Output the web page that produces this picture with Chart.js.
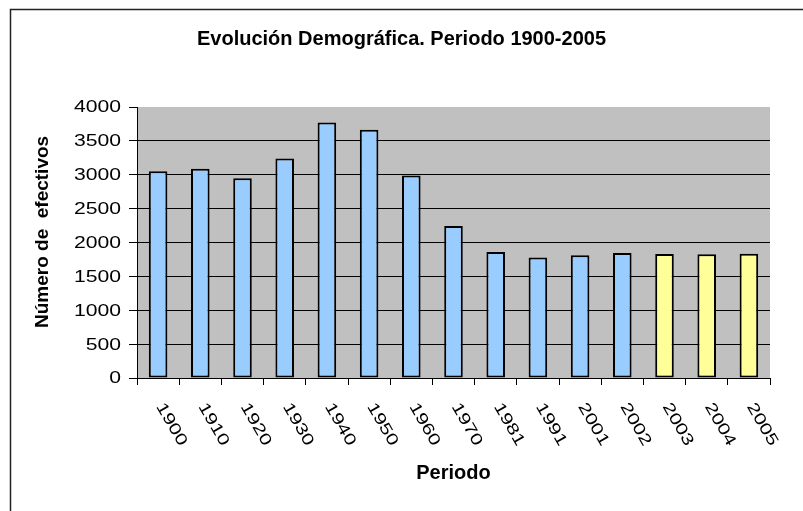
<!DOCTYPE html>
<html>
<head>
<meta charset="utf-8">
<script src="https://cdn.jsdelivr.net/npm/chart.js@4.4.1/dist/chart.umd.min.js"></script>
<style>
  html, body { margin: 0; padding: 0; background: #ffffff; }
  canvas { display: block; }
</style>
</head>
<body>
<canvas id="c" width="803" height="511"></canvas>
<script>
// ---- data ----
const categories = ['1900','1910','1920','1930','1940','1950','1960','1970','1981','1991','2001','2002','2003','2004','2005'];
const efectivos  = [3050, 3090, 2950, 3240, 3770, 3665, 2990, 2245, 1860, 1780, 1810, 1845, 1830, 1825, 1835];
const highlightedYears = ['2003','2004','2005'];
const yTickValues = [0, 500, 1000, 1500, 2000, 2500, 3000, 3500, 4000];
const chartTitle = 'Evolución Demográfica. Periodo 1900-2005';
const xTitle = 'Periodo';
const yTitle = 'Número de  efectivos';

const FONT = "'Liberation Sans', Arial, sans-serif";
const BLUE = '#99CCFF';
const YELLOW = '#FFFF99';

const decor = {
  id: 'decor',
  beforeDraw(chart) {
    const {ctx, chartArea: a} = chart;
    ctx.save();
    ctx.fillStyle = '#C0C0C0';
    ctx.fillRect(a.left, a.top, a.right - a.left, a.bottom - a.top);
    ctx.restore();
  },
  afterDraw(chart) {
    const ctx = chart.ctx;
    const xs = chart.scales.x, ys = chart.scales.y;
    ctx.save();
    // outer frame (top + left)
    ctx.strokeStyle = '#222';
    ctx.lineWidth = 1.5;
    ctx.beginPath();
    ctx.moveTo(10.5, 511);
    ctx.lineTo(10.5, 9.5);
    ctx.lineTo(803, 9.5);
    ctx.stroke();

    ctx.fillStyle = '#000';
    ctx.font = '16px ' + FONT;
    // y tick labels
    ctx.textAlign = 'right';
    ctx.textBaseline = 'middle';
    yTickValues.forEach(v => {
      const y = ys.getPixelForValue(v);
      ctx.save();
      ctx.translate(121, y + 1);
      ctx.scale(1.32, 1);
      ctx.fillText(String(v), 0, 0);
      ctx.restore();
    });
    // x tick labels (rotated clockwise)
    ctx.textAlign = 'left';
    ctx.textBaseline = 'middle';
    categories.forEach((c, i) => {
      const x = xs.getPixelForValue(i);
      ctx.save();
      ctx.translate(x + 1.5, xs.top + 26);
      ctx.rotate(Math.PI / 3);
      ctx.scale(1.32, 1);
      ctx.fillText(c, 0, 0);
      ctx.restore();
    });
    ctx.restore();
  }
};

new Chart(document.getElementById('c'), {
  type: 'bar',
  data: {
    labels: categories,
    datasets: [{
      data: efectivos,
      backgroundColor: ctx => highlightedYears.includes(categories[ctx.dataIndex]) ? YELLOW : BLUE,
      borderColor: '#000',
      borderWidth: 2,
      borderSkipped: false,
      barPercentage: 0.44,
      categoryPercentage: 1.0
    }]
  },
  options: {
    responsive: false,
    devicePixelRatio: 1,
    animation: false,
    layout: { padding: { left: 0, right: 0, top: 0, bottom: 0 } },
    plugins: {
      legend: { display: false },
      tooltip: { enabled: false },
      title: {
        display: true,
        text: chartTitle,
        color: '#000',
        font: { family: FONT, size: 20, weight: 'bold', lineHeight: 1.2 },
        padding: { top: 27, bottom: 56 }
      }
    },
    scales: {
      x: {
        offset: true,
        grid: {
          display: true,
          offset: true,
          drawOnChartArea: false,
          drawTicks: true,
          tickLength: 7,
          tickColor: '#000',
          color: '#000'
        },
        border: { display: true, color: '#000', width: 1 },
        ticks: { display: false },
        title: {
          display: true,
          text: xTitle,
          color: '#000',
          font: { family: FONT, size: 20, weight: 'bold', lineHeight: 1.2 },
          padding: { top: 0, bottom: 26 }
        },
        afterFit(scale) { scale.height = 133; }
      },
      y: {
        min: 0,
        max: 4000,
        afterBuildTicks(scale) { scale.ticks = yTickValues.map(v => ({ value: v })); },
        grid: {
          display: true,
          drawTicks: true,
          tickLength: 8,
          tickColor: '#000',
          color: ctx => (ctx.tick && ctx.tick.value === 4000) ? 'rgba(0,0,0,0)' : '#000',
          lineWidth: 1
        },
        border: { display: true, color: '#000', width: 1 },
        ticks: { display: false },
        title: {
          display: true,
          text: '    ' + yTitle,
          color: '#000',
          font: { family: FONT, size: 19, weight: 'bold', lineHeight: 1.2 },
          padding: { top: 31, bottom: 0 }
        },
        afterFit(scale) { scale.width = 137; }
      },
      yRight: {
        position: 'right',
        display: true,
        min: 0,
        max: 4000,
        grid: { display: false, drawOnChartArea: false, drawTicks: false },
        border: { display: false },
        ticks: { display: false },
        title: { display: false },
        afterFit(scale) { scale.width = 33; }
      }
    }
  },
  plugins: [decor]
});
</script>
</body>
</html>
